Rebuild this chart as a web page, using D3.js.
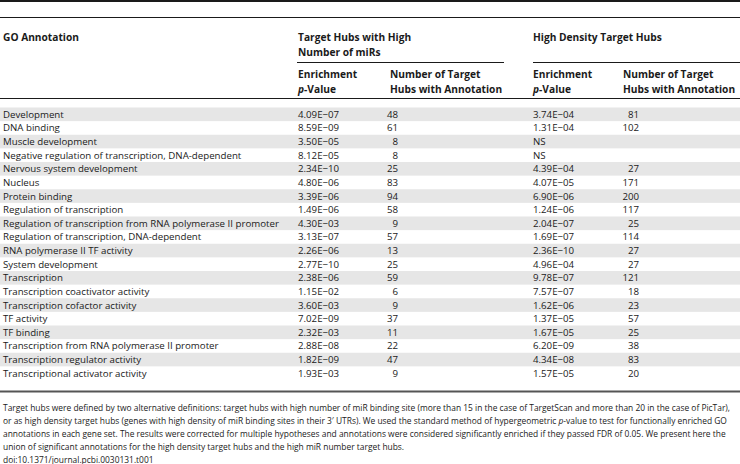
<!DOCTYPE html>
<html>
<head>
<meta charset="utf-8">
<script src="https://cdn.jsdelivr.net/npm/d3@7"></script>
<style>
  body { margin: 0; background: #fff; }
  svg { font-family: "Open Sans", "Noto Sans", sans-serif; fill: #1a1a1a; }
</style>
</head>
<body>
<svg id="tbl" width="740" height="464"></svg>
<script>
var annotations = ["Development", "DNA binding", "Muscle development",
    "Negative regulation of transcription, DNA-dependent", "Nervous system development",
    "Nucleus", "Protein binding", "Regulation of transcription",
    "Regulation of transcription from RNA polymerase II promoter",
    "Regulation of transcription, DNA-dependent", "RNA polymerase II TF activity",
    "System development", "Transcription", "Transcription coactivator activity",
    "Transcription cofactor activity", "TF activity", "TF binding",
    "Transcription from RNA polymerase II promoter", "Transcription regulator activity",
    "Transcriptional activator activity"];
var hubPValues = ["4.09E−07", "8.59E−09", "3.50E−05", "8.12E−05", "2.34E−10", "4.80E−06",
    "3.39E−06", "1.49E−06", "4.30E−03", "3.13E−07", "2.26E−06", "2.77E−10", "2.38E−06",
    "1.15E−02", "3.60E−03", "7.02E−09", "2.32E−03", "2.88E−08", "1.82E−09", "1.93E−03"];
var hubCounts = [48, 61, 8, 8, 25, 83, 94, 58, 9, 57, 13, 25, 59, 6, 9, 37, 11, 22, 47, 9];
var densePValues = ["3.74E−04", "1.31E−04", "NS", "NS", "4.39E−04", "4.07E−05", "6.90E−06",
    "1.24E−06", "2.04E−07", "1.69E−07", "2.36E−10", "4.96E−04", "9.78E−07", "7.57E−07",
    "1.62E−06", "1.37E−05", "1.67E−05", "6.20E−09", "4.34E−08", "1.57E−05"];
var denseCounts = [81, 102, null, null, 27, 171, 200, 117, 25, 114, 27, 27, 121, 18, 23, 57, 25, 38, 83, 20];

var footnote = [
    [["Target hubs were defined by two alternative definitions: target hubs with high number of miR binding site (more than 15 in the case of TargetScan and more than 20 in the case of PicTar),", false]],
    [["or as high density target hubs (genes with high density of miR binding sites in their 3′ UTRs). We used the standard method of hypergeometric ", false], ["p", true], ["-value to test for functionally enriched GO", false]],
    [["annotations in each gene set. The results were corrected for multiple hypotheses and annotations were considered significantly enriched if they passed FDR of 0.05. We present here the", false]],
    [["union of significant annotations for the high density target hubs and the high miR number target hubs.", false]],
    [["doi:10.1371/journal.pcbi.0030131.t001", false]]
];

var svg = d3.select("#tbl");
var W = 740;
var fs = 10.2;
var bodyFs = 9.7;

var rows = annotations.map(function (a, i) {
    return {k: a, p1: hubPValues[i], n1: hubCounts[i], p2: densePValues[i], n2: denseCounts[i], i: i};
});

var y = d3.scaleBand()
    .domain(d3.range(rows.length))
    .range([107.5, 380])
    .padding(0);

// column positions
var col = {go: 3, p1: 298, n1: 398, p2: 533, n2: 639, h1: 390, h2: 623};

// zebra shading
svg.append("g").selectAll("rect")
    .data(rows.filter(d => d.i % 2 === 0))
    .enter().append("rect")
    .attr("x", 0)
    .attr("y", d => y(d.i))
    .attr("width", W)
    .attr("height", y.bandwidth())
    .attr("fill", "#e6e6e6");

// rules
function rule(x1, x2, yy, w, c) {
    svg.append("line").attr("x1", x1).attr("x2", x2).attr("y1", yy).attr("y2", yy)
        .attr("stroke", c || "#1a1a1a").attr("stroke-width", w);
}
rule(0, W, 1, 2);
rule(0, W, 17.5, 1);
rule(297, 504, 62.5, 1);
rule(533, W, 62.5, 1);
rule(0, W, 98.5, 1);
rule(0, W, 391.5, 2, "#555");

// headers
var head = svg.append("g").attr("font-weight", "bold").attr("font-size", fs);
function htext(x, yy, parts) {
    var t = head.append("text").attr("x", x).attr("y", yy);
    parts.forEach(function (p) {
        t.append("tspan").text(p[0]).attr("font-style", p[1] ? "italic" : null);
    });
}
htext(col.go, 41, [["GO Annotation"]]);
htext(col.p1, 41, [["Target Hubs with High"]]);
htext(col.p1, 56, [["Number of miRs"]]);
htext(col.p2, 41, [["High Density Target Hubs"]]);
htext(col.p1, 78, [["Enrichment"]]);
htext(col.p1, 93, [["p", true], ["-Value"]]);
htext(col.h1, 78, [["Number of Target"]]);
htext(col.h1, 93, [["Hubs with Annotation"]]);
htext(col.p2, 78, [["Enrichment"]]);
htext(col.p2, 93, [["p", true], ["-Value"]]);
htext(col.h2, 78, [["Number of Target"]]);
htext(col.h2, 93, [["Hubs with Annotation"]]);

// body rows
var body = svg.append("g").attr("font-size", bodyFs);
var r = body.selectAll("g.row").data(rows).enter().append("g")
    .attr("class", "row")
    .attr("transform", d => "translate(0," + (y(d.i) + y.bandwidth() / 2 + 3.5) + ")");
r.append("text").attr("x", col.go).text(d => d.k);
r.append("text").attr("x", col.p1).text(d => d.p1);
r.append("text").attr("x", col.n1).attr("text-anchor", "end").text(d => d.n1);
r.append("text").attr("x", col.p2).text(d => d.p2);
r.append("text").attr("x", col.n2).attr("text-anchor", "end").text(d => d.n2 == null ? "" : d.n2);

// footnote: size picked so the first line spans the width like the original
var foot = svg.append("g").attr("font-size", 9);
var lines = footnote.map(function (line, i) {
    var t = foot.append("text").attr("x", 3).attr("y", 410.5 + i * 13.1);
    line.forEach(function (p) {
        t.append("tspan").text(p[0]).attr("font-style", p[1] ? "italic" : null);
    });
    return t;
});
var w0 = lines[0].node().getComputedTextLength();
foot.attr("font-size", 9 * 729 / w0);
</script>
</body>
</html>
